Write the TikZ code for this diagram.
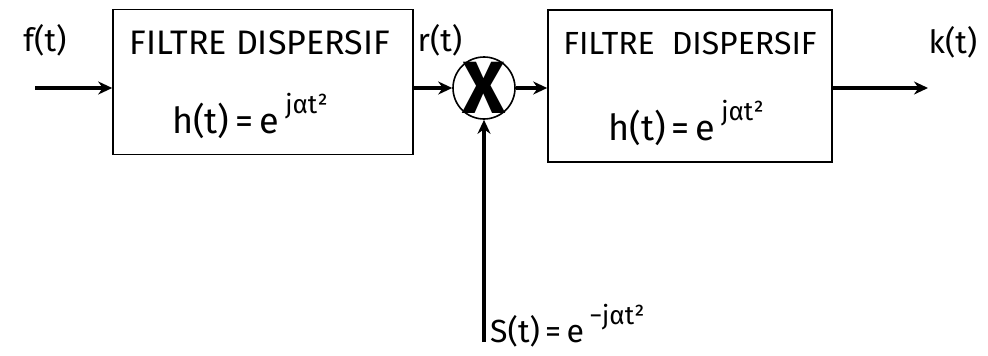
\documentclass[tikz,border=0pt]{standalone}
\usepackage{fontspec}
\setmainfont{Fira Sans}
\usetikzlibrary{arrows.meta}
\newcommand{\expo}[1]{e\,\raisebox{0.55em}{\fontsize{26}{28}\selectfont #1}}
\begin{document}
\begin{tikzpicture}[x=1pt,y=-1pt,
  blockbox/.style={draw, line width=1.6pt, minimum width=300pt, minimum height=145pt, inner sep=0pt},
  mixer/.style={draw, circle, line width=1.6pt, minimum size=62pt, inner sep=0pt},
  signal/.style={line width=3.5pt, -{Stealth[length=14pt,width=13pt]}},
  lbl/.style={font=\fontsize{32}{36}\selectfont, inner sep=0pt},
  title/.style={font=\fontsize{34}{38}\selectfont, inner sep=0pt},
  formula/.style={font=\fontsize{36}{40}\selectfont, inner sep=0pt}]
\useasboundingbox (0,0) rectangle (988,356);
\node[blockbox] (f1) at (263,82) {};
\node[blockbox, minimum width=284pt, minimum height=152pt] (f2) at (690,86) {};
\node[mixer] (m) at (484,88) {};
\node[font=\fontsize{74}{74}\selectfont\bfseries, inner sep=0pt] (x) at (m.center) {X};
\coordinate (in) at (35,88);
\coordinate (out) at (928,88);
\coordinate (sbot) at (484,342);
\node[title] (t1) at (260,43) {FILTRE DISPERSIF};
\node[formula, anchor=base] (h1) at (250,133) {h(t)\,=\,\expo{jαt²}};
\node[title, font=\fontsize{32}{36}\selectfont] (t2) at (690,43) {FILTRE\ \ DISPERSIF};
\node[formula, anchor=base] (h2) at (686,140) {h(t)\,=\,\expo{jαt²}};
\node[lbl] (lf) at (45,40) {f(t)};
\node[lbl] (lr) at (440,40) {r(t)};
\node[lbl] (lk) at (953,42) {k(t)};
\node[lbl, anchor=base west] (ls) at (490,342) {S(t)\,=\,\expo{−jαt²}};
\draw[signal] (in) -- (f1.west |- in);
\draw[signal] (f1.east |- m.west) -- (m.west);
\draw[signal] (m.east) -- (f2.west |- m.east);
\draw[signal] (f2.east |- out) -- (out);
\draw[signal] (sbot) -- (m.south);
\end{tikzpicture}
\end{document}
